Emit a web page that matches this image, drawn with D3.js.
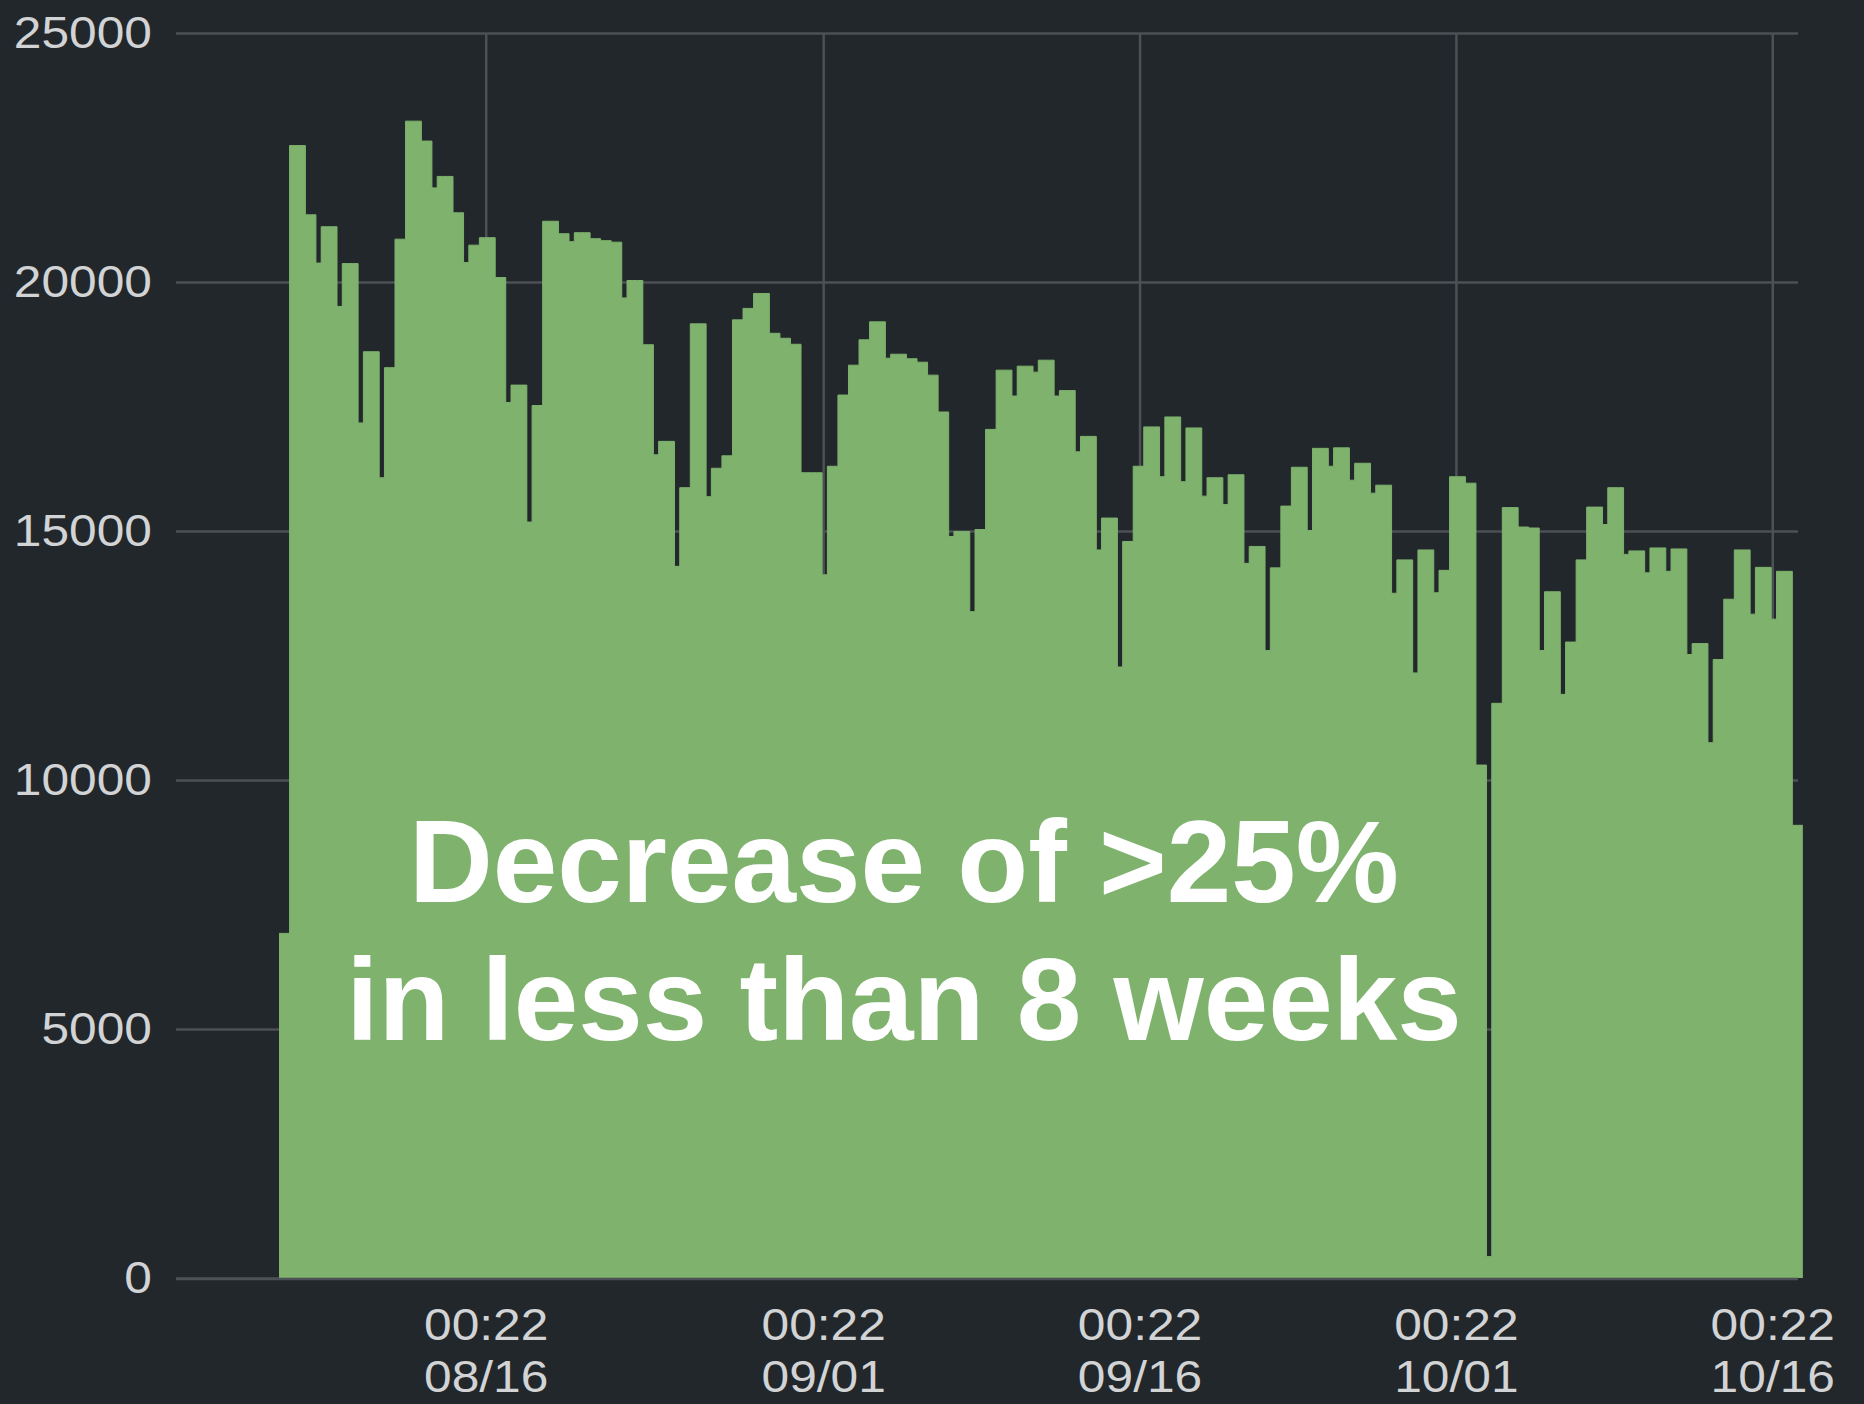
<!DOCTYPE html>
<html><head><meta charset="utf-8">
<script src="https://cdn.jsdelivr.net/npm/d3@7"></script>
<style>
html,body{margin:0;padding:0;background:#22272b;}
svg{display:block;}
</style></head><body>
<svg id="chart" width="1864" height="1404"></svg>
<script>
// ---- data ----
const yTicks = [0, 5000, 10000, 15000, 20000, 25000];
const xTickDates = ["2018-08-16T00:22Z", "2018-09-01T00:22Z", "2018-09-16T00:22Z", "2018-10-01T00:22Z", "2018-10-16T00:22Z"];
const seriesStart = "2018-08-06T05:09Z";   // first sample
const stepHours = 6;                        // one sample every 6 hours
const values = [
  6920,6920,22740,22740,22740,21350,21350,20380,21110,21110,21110,19510,20370,20370,20370,17170,18600,18600,18600,16070,
  18280,18280,20860,20860,23230,23230,23230,22830,22830,21890,22120,22120,22120,21390,21390,20390,20740,20740,20890,20890,
  20890,20090,20090,17580,17930,17930,17930,15180,17520,17520,21220,21220,21220,20970,20970,20810,20990,20990,20990,20870,
  20870,20830,20830,20800,20800,19680,20030,20030,20030,18740,18740,16530,16800,16800,16800,14290,15870,15870,19160,19160,
  19160,15690,16260,16260,16510,16510,19240,19240,19470,19470,19770,19770,19770,18970,18970,18870,18870,18750,18750,16170,
  16170,16170,16170,14120,16300,16300,17730,17730,18330,18330,18840,18840,19200,19200,19200,18470,18550,18550,18550,18460,
  18460,18390,18390,18130,18130,17390,17390,14890,14990,14990,14990,13380,15030,15030,17040,17040,18230,18230,18230,17710,
  18310,18310,18310,18190,18430,18430,18430,17710,17820,17820,17820,16590,16900,16900,16900,14620,15260,15260,15260,12270,
  14790,14790,16300,16300,17090,17090,17090,16090,17290,17290,17290,15990,17070,17070,17070,15700,16070,16070,16070,15530,
  16130,16130,16130,14350,14690,14690,14690,12600,14260,14260,15500,15500,16280,16280,16280,15010,16660,16660,16660,16300,
  16670,16670,16670,16020,16360,16360,16360,15760,15920,15920,15920,13750,14420,14420,14420,12150,14620,14620,14620,13760,
  14210,14210,16090,16090,16090,15960,15960,10300,10300,430,11540,11540,15470,15470,15470,15080,15080,15060,15060,12600,
  13780,13780,13780,11720,12770,12770,14420,14420,15480,15480,15480,15130,15870,15870,15870,14530,14600,14600,14600,14160,
  14660,14660,14660,14190,14640,14640,14640,12520,12740,12740,12740,10750,12420,12420,13630,13630,14620,14620,14620,13330,
  14270,14270,14270,13230,14190,14190,14190,9090,9090
];
const annotationLines = ["Decrease of >25%", "in less than 8 weeks"];

// ---- layout ----
const W = 1864, H = 1404;
const plot = {left: 176, right: 1798, top: 33, bottom: 1278};
const domainStart = new Date("2018-08-01T07:56Z");
const domainEnd = new Date("2018-10-17T05:37Z");
const colors = {bg: "#22272b", grid: "#4c5156", fill: "#7eb26d", text: "#d2d3d4"};
const font = "'Liberation Sans', Arial, Helvetica, sans-serif";
const stretch = 1.13;

const svg = d3.select("#chart");
svg.append("rect").attr("width", W).attr("height", H).attr("fill", colors.bg);

const x = d3.scaleUtc().domain([domainStart, domainEnd]).range([plot.left, plot.right]);
const y = d3.scaleLinear().domain([0, 25000]).range([plot.bottom, plot.top]);

const t0 = new Date(seriesStart).getTime();
const stepMs = stepHours * 3600 * 1000;
const pts = values.map((v, i) => ({t: new Date(t0 + i * stepMs), v}));
pts.push({t: new Date(t0 + values.length * stepMs), v: values[values.length - 1]});
const ticksX = xTickDates.map(s => new Date(s));

// grid
const gy = svg.append("g").attr("transform", `translate(${plot.left},0)`)
  .call(d3.axisLeft(y).tickValues(yTicks).tickSize(-(plot.right - plot.left)).tickFormat(""));
gy.select(".domain").remove();
gy.selectAll(".tick line").attr("stroke", colors.grid).attr("stroke-width", 2.5);

const gxg = svg.append("g").attr("transform", `translate(0,${plot.bottom})`)
  .call(d3.axisBottom(x).tickValues(ticksX).tickSize(-(plot.bottom - plot.top)).tickFormat(""));
gxg.select(".domain").remove();
gxg.selectAll(".tick line").attr("stroke", colors.grid).attr("stroke-width", 2.5);

// area
const area = d3.area().curve(d3.curveStepAfter)
  .x(d => x(d.t)).y0(y(0)).y1(d => y(d.v));
svg.append("path").datum(pts).attr("d", area).attr("fill", colors.fill);
const line = d3.line().curve(d3.curveStepAfter).x(d => x(d.t)).y(d => y(d.v));
svg.append("path").datum(pts).attr("d", line).attr("fill", "none")
  .attr("stroke", colors.fill).attr("stroke-width", 1);

// zero line on top
svg.append("line").attr("x1", plot.left).attr("x2", plot.right)
  .attr("y1", y(0) + 1).attr("y2", y(0) + 1).attr("stroke", colors.grid).attr("stroke-width", 2.5);

// y labels
const yl = svg.append("g").attr("transform", `translate(${plot.left},0)`)
  .call(d3.axisLeft(y).tickValues(yTicks).tickSize(0).tickFormat(d3.format("d")));
yl.select(".domain").remove();
yl.attr("font-family", null).attr("font-size", null);
yl.selectAll(".tick text")
  .attr("x", -24 / stretch).attr("dy", "0.32em")
  .attr("transform", `scale(${stretch},1)`)
  .attr("fill", colors.text).style("font-family", font).style("font-size", "44px");

// x labels
const fmtTime = d3.utcFormat("%H:%M"), fmtDate = d3.utcFormat("%m/%d");
const xl = svg.append("g").attr("transform", `translate(0,${plot.bottom})`)
  .call(d3.axisBottom(x).tickValues(ticksX).tickSize(0).tickFormat(fmtTime));
xl.select(".domain").remove();
xl.attr("font-family", null).attr("font-size", null);
xl.selectAll(".tick text").each(function (d) {
  const t = d3.select(this);
  t.text(null).attr("y", 0).attr("dy", null)
    .attr("transform", `scale(${stretch},1)`)
    .attr("fill", colors.text).style("font-family", font).style("font-size", "44px");
  t.append("tspan").attr("x", 0).attr("y", 62).text(fmtTime(d));
  t.append("tspan").attr("x", 0).attr("y", 113.7).text(fmtDate(d));
});

// annotation
const ann = svg.append("text").attr("text-anchor", "middle")
  .attr("fill", "#ffffff").style("font-family", font)
  .style("font-weight", "bold").style("font-size", "116px");
annotationLines.forEach((s, i) => {
  ann.append("tspan").attr("x", 904).attr("y", 902 + i * 138).text(s);
});
</script>
</body></html>
